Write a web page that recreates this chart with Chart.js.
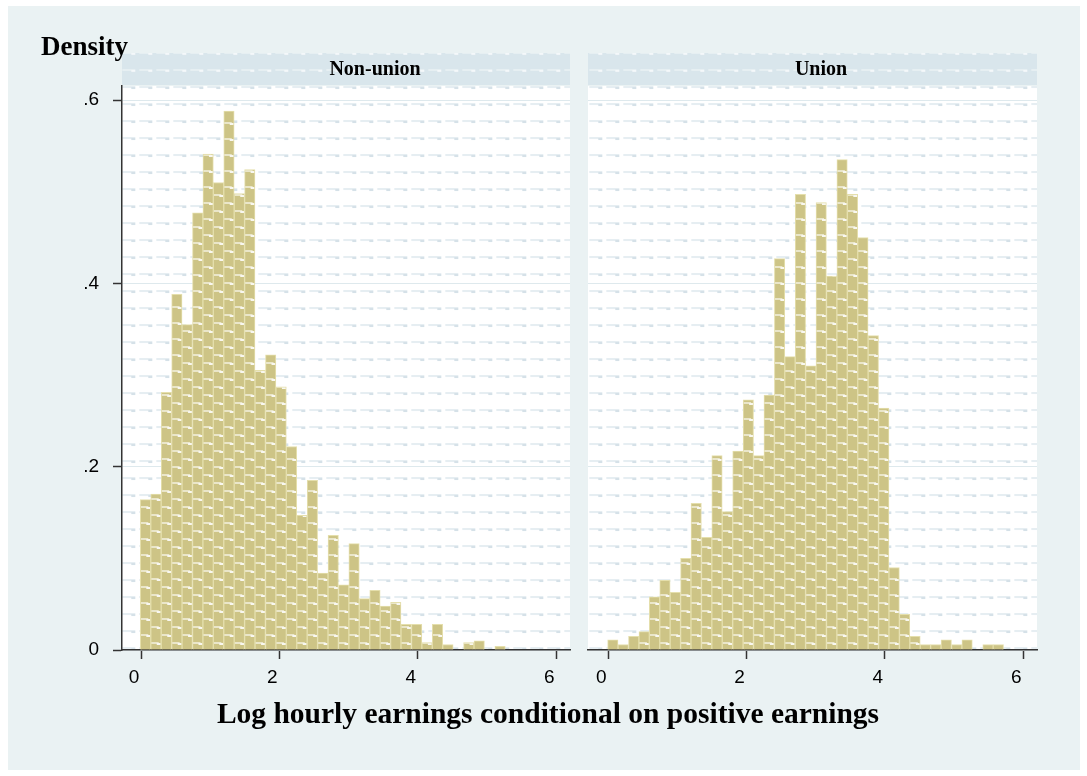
<!DOCTYPE html>
<html>
<head>
<meta charset="utf-8">
<script src="https://cdn.jsdelivr.net/npm/chart.js@4.4.1/dist/chart.umd.min.js"></script>
<style>
  html, body { margin: 0; padding: 0; background: #fff; }
  #frame { position: absolute; left: 8px; top: 6px; width: 1072px; height: 764px; background: #eaf2f3; }
  canvas { position: absolute; top: 0; }
  #left { left: 0; }
  #right { left: 580px; }
  .lbl { position: absolute; font-family: "Liberation Serif", "Times New Roman", serif; font-weight: bold;
         color: #000; line-height: 1; white-space: nowrap; }
  #ytitle { left: 41px; top: 33px; font-size: 27px; }
  #xtitle { left: 548px; top: 699px; font-size: 29.5px; transform: translateX(-50%); }
</style>
</head>
<body>
<div id="frame"></div>
<canvas id="left" width="580" height="700"></canvas>
<canvas id="right" width="507" height="700"></canvas>
<div class="lbl" id="ytitle">Density</div>
<div class="lbl" id="xtitle">Log hourly earnings conditional on positive earnings</div>
<script>
// histogram bins (centres, log hourly earnings)
const binCenters = [0.065, 0.216, 0.367, 0.518, 0.668, 0.819, 0.970, 1.120, 1.271, 1.422,
                    1.572, 1.723, 1.874, 2.025, 2.175, 2.326, 2.477, 2.627, 2.778, 2.929,
                    3.079, 3.230, 3.381, 3.532, 3.682, 3.833, 3.984, 4.134, 4.285, 4.436,
                    4.586, 4.737, 4.888, 5.039, 5.189, 5.340, 5.491, 5.641];
const nonUnion = [0.164, 0.170, 0.281, 0.388, 0.355, 0.477, 0.541, 0.510, 0.588, 0.498,
                  0.524, 0.305, 0.322, 0.287, 0.222, 0.147, 0.185, 0.084, 0.125, 0.071,
                  0.116, 0.056, 0.065, 0.048, 0.052, 0.028, 0.028, 0.008, 0.028, 0.006,
                  0, 0.008, 0.010, 0, 0.004, 0, 0, 0];
const union = [0.011, 0.006, 0.015, 0.020, 0.058, 0.076, 0.063, 0.100, 0.160, 0.123,
               0.212, 0.151, 0.217, 0.273, 0.212, 0.278, 0.427, 0.320, 0.497, 0.310,
               0.488, 0.408, 0.535, 0.497, 0.450, 0.343, 0.264, 0.090, 0.039, 0.015,
               0.006, 0.006, 0.011, 0.006, 0.011, 0, 0.006, 0.006];
const xTicks = [0, 2, 4, 6];
const yTicks = [0, 0.2, 0.4, 0.6];
const panelTitles = ['Non-union', 'Union'];

const BAR_FILL = 'rgb(205,196,134)';
const BAR_EDGE = 'rgb(229,223,172)';
const AXIS = '#333';
const GRID = 'rgb(222,233,237)';
const STRIP = 'rgb(217,230,236)';
const TICK_FONT = { family: '"Liberation Sans", Arial, sans-serif', size: 19 };

function tile(w, h, draw) {
  const c = document.createElement('canvas');
  c.width = w; c.height = h;
  draw(c.getContext('2d'));
  return c;
}

// stata-ish background texture
const bgTile = tile(17, 17, g => {
  g.fillStyle = 'rgb(230,238,242)'; g.fillRect(0, 0, 13, 2);
  g.fillStyle = 'rgb(213,225,232)'; g.fillRect(9, 1, 4, 2);
});
const stripTile = tile(17, 17, g => {
  g.fillStyle = 'rgba(255,255,255,0.35)'; g.fillRect(0, 0, 13, 2);
  g.fillStyle = 'rgba(255,255,255,0.6)'; g.fillRect(9, 1, 4, 2);
});
const brickTile = tile(11, 16, g => {
  g.fillStyle = BAR_FILL; g.fillRect(0, 0, 11, 16);
  g.fillStyle = 'rgb(234,230,202)'; g.fillRect(0, 0, 8, 2);
  g.fillStyle = 'rgb(248,247,240)'; g.fillRect(6, 1, 4, 2);
});

const binWidth = binCenters[1] - binCenters[0];

function brickFill(c) {
  const chart = c.chart;
  if (c.type !== 'data' || !chart.chartArea) return BAR_FILL;
  const xs = chart.scales.x;
  const half = (xs.getPixelForValue(binWidth) - xs.getPixelForValue(0)) / 2;
  const left = xs.getPixelForValue(binCenters[c.dataIndex]) - half;
  const p = chart.ctx.createPattern(brickTile, 'repeat');
  p.setTransform(new DOMMatrix([1, 0, 0, 1, left, chart.chartArea.bottom + (c.dataIndex % 2) * 8]));
  return p;
}

const panelPlugin = {
  id: 'panel',
  beforeDraw(chart, args, opts) {
    const { ctx, chartArea: a } = chart;
    const w = a.right - a.left;
    ctx.save();
    ctx.fillStyle = '#fff';
    ctx.fillRect(a.left, a.top, w, a.bottom - a.top);
    let p = ctx.createPattern(bgTile, 'repeat');
    p.setTransform(new DOMMatrix([1, 0, 0, 1, opts.phaseX, 1]));
    ctx.fillStyle = p;
    ctx.fillRect(a.left, a.top, w, a.bottom - a.top);

    ctx.fillStyle = STRIP;
    ctx.fillRect(a.left, 53, w, a.top - 1 - 53);
    p = ctx.createPattern(stripTile, 'repeat');
    p.setTransform(new DOMMatrix([1, 0, 0, 1, opts.phaseX, 1]));
    ctx.fillStyle = p;
    ctx.fillRect(a.left, 53, w, a.top - 1 - 53);

    ctx.fillStyle = '#000';
    ctx.font = 'bold 20px "Liberation Serif", "Times New Roman", serif';
    ctx.textAlign = 'center';
    ctx.textBaseline = 'alphabetic';
    ctx.fillText(opts.title, (a.left + a.right) / 2 + opts.titleShift, 75);
    ctx.restore();
  }
};

function makeChart(id, values, cfg) {
  return new Chart(document.getElementById(id), {
    type: 'bar',
    data: {
      datasets: [{
        data: binCenters.map((x, i) => ({ x: x, y: values[i] })),
        backgroundColor: brickFill,
        borderColor: BAR_EDGE,
        borderWidth: 1,
        barPercentage: 1,
        categoryPercentage: 1
      }]
    },
    options: {
      responsive: false,
      animation: false,
      devicePixelRatio: 1,
      layout: { padding: cfg.padding },
      plugins: {
        legend: { display: false },
        tooltip: { enabled: false },
        panel: { title: cfg.title, titleShift: cfg.titleShift, phaseX: cfg.phaseX }
      },
      scales: {
        x: {
          type: 'linear',
          min: cfg.xMin,
          max: 6.2,
          offset: false,
          afterBuildTicks: s => { s.ticks = xTicks.map(v => ({ value: v })); },
          afterFit: s => { s.height = 50; },
          ticks: { color: '#000', padding: 7, labelOffset: -7, maxRotation: 0, font: TICK_FONT },
          grid: { drawOnChartArea: false, drawTicks: true, tickLength: 9, tickColor: AXIS, tickWidth: 1.5, offset: false },
          border: { color: AXIS, width: 1.5 }
        },
        y: {
          min: 0,
          max: 0.6153,
          afterBuildTicks: s => { s.ticks = yTicks.map(v => ({ value: v })); },
          afterFit: s => { s.width = cfg.yWidth; },
          ticks: {
            display: cfg.yLabels,
            color: '#000',
            padding: 14,
            font: TICK_FONT,
            callback: v => v === 0 ? '0' : String(v).replace(/^0/, '')
          },
          grid: { color: GRID, lineWidth: 1, drawTicks: cfg.yLabels, tickLength: 9, tickColor: AXIS, tickWidth: 1.5 },
          border: { display: cfg.yLabels, color: AXIS, width: 1.5 }
        }
      }
    },
    plugins: [panelPlugin]
  });
}

makeChart('left', nonUnion, {
  title: panelTitles[0], titleShift: 29, phaseX: 3.3,
  padding: { left: 0, top: 86, right: 10, bottom: 0 },
  xMin: -0.275, yWidth: 122, yLabels: true
});
makeChart('right', union, {
  title: panelTitles[1], titleShift: 8.5, phaseX: 9.3,
  padding: { left: 8, top: 86, right: 50, bottom: 0 },
  xMin: -0.294, yWidth: 0, yLabels: false
});
</script>
</body>
</html>
